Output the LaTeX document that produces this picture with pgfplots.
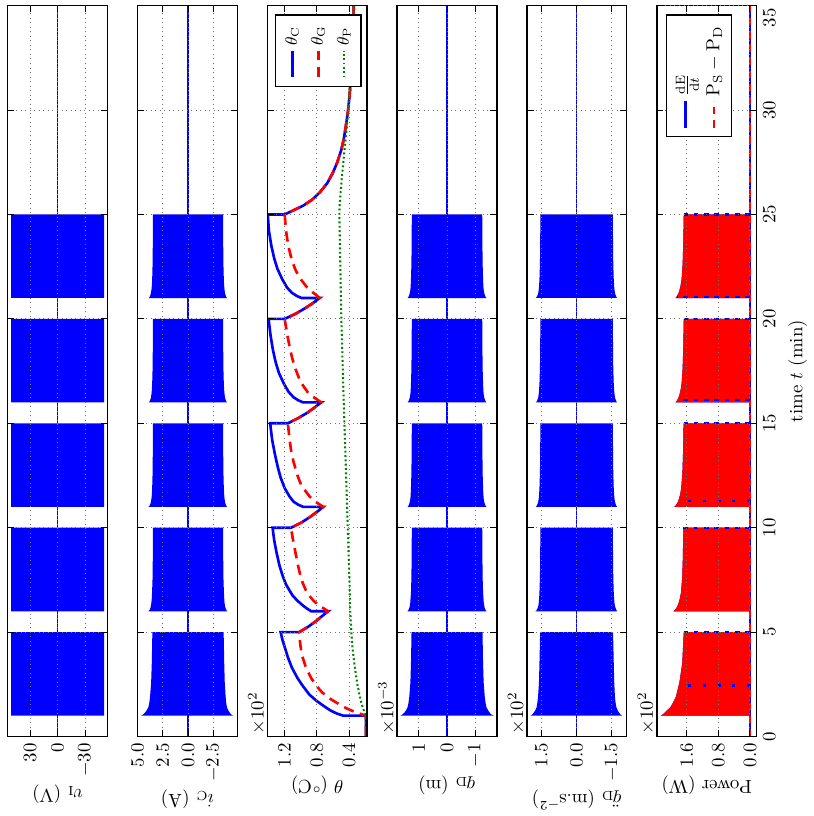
\documentclass[border=0pt]{standalone}
\usepackage{pgfplots}
\pgfplotsset{compat=1.18}
\usepackage{pgfplotstable}
\usetikzlibrary{calc}
\definecolor{mblue}{rgb}{0,0,1}
\definecolor{mred}{rgb}{1,0,0}
\definecolor{mgreen}{rgb}{0,0.5,0}

% envelopes of the fast oscillating signals (upper / lower)
% v: v_I (V), i: i_C (A), q: q_D (x1e-3 m), a: accel (m/s^2), p: power (W)
\pgfplotstableread{
t v vl i il q ql a al p
0 0 0 0 0 0 0 0 0 0
1 0 0 0 0 0 0 0 0 0
1 50.5 -50.5 4.65 -4.48 1.66 -1.66 197 -194 227
1.05 50.5 -50.5 4.45 -4.30 1.59 -1.58 189 -187 222
1.15 50.5 -50.5 4.24 -4.12 1.51 -1.51 182 -180 216
1.25 50.5 -50.5 4.10 -4.00 1.46 -1.46 176 -175 211
1.4 50.5 -50.5 3.93 -3.86 1.40 -1.40 170 -169 202
1.6 50.5 -50.5 3.84 -3.79 1.37 -1.37 167 -166 196
1.9 50.5 -50.5 3.76 -3.73 1.34 -1.34 164 -163 188
2.6 50.5 -50.5 3.65 -3.64 1.30 -1.30 160 -160 179
3.5 50.5 -50.5 3.59 -3.59 1.28 -1.28 158 -158 172
5 50.5 -50.5 3.53 -3.53 1.26 -1.26 155 -155 168
5 0 0 0 0 0 0 0 0 0
6 0 0 0 0 0 0 0 0 0
6 50.5 -50.5 3.92 -3.90 1.41 -1.41 175 -173 194
6.05 50.5 -50.5 3.82 -3.81 1.375 -1.37 170 -169 191
6.15 50.5 -50.5 3.73 -3.72 1.34 -1.34 166 -166 187
6.25 50.5 -50.5 3.68 -3.67 1.325 -1.325 163 -163 184
6.4 50.5 -50.5 3.63 -3.62 1.305 -1.305 161 -161 181
6.6 50.5 -50.5 3.59 -3.59 1.295 -1.295 159.5 -159.5 178
6.9 50.5 -50.5 3.56 -3.56 1.28 -1.28 158 -158 175
7.6 50.5 -50.5 3.51 -3.51 1.265 -1.265 156 -156 172
8.5 50.5 -50.5 3.49 -3.49 1.257 -1.257 155 -155 170.5
10 50.5 -50.5 3.47 -3.47 1.25 -1.25 154 -154 169
10 0 0 0 0 0 0 0 0 0
11 0 0 0 0 0 0 0 0 0
11 50.5 -50.5 3.90 -3.88 1.40 -1.40 174 -172 192
11.05 50.5 -50.5 3.81 -3.80 1.37 -1.37 169.5 -169 189
11.15 50.5 -50.5 3.72 -3.71 1.34 -1.34 165.5 -165.5 185.5
11.25 50.5 -50.5 3.67 -3.66 1.32 -1.32 163 -163 182.5
11.4 50.5 -50.5 3.62 -3.62 1.30 -1.30 161 -161 180
11.6 50.5 -50.5 3.58 -3.58 1.29 -1.29 159.5 -159.5 177
11.9 50.5 -50.5 3.55 -3.55 1.28 -1.28 158 -158 174.5
12.6 50.5 -50.5 3.51 -3.51 1.265 -1.265 156 -156 171.5
13.5 50.5 -50.5 3.49 -3.49 1.257 -1.257 155 -155 170
15 50.5 -50.5 3.47 -3.47 1.25 -1.25 154 -154 168.5
15 0 0 0 0 0 0 0 0 0
16 0 0 0 0 0 0 0 0 0
16 50.5 -50.5 3.88 -3.87 1.40 -1.40 174 -172 189
16.05 50.5 -50.5 3.80 -3.79 1.37 -1.37 169.5 -169 186.5
16.15 50.5 -50.5 3.72 -3.71 1.34 -1.34 165.5 -165.5 183.5
16.25 50.5 -50.5 3.67 -3.66 1.32 -1.32 163 -163 181
16.4 50.5 -50.5 3.62 -3.62 1.30 -1.30 161 -161 178.5
16.6 50.5 -50.5 3.58 -3.58 1.29 -1.29 159.5 -159.5 176
16.9 50.5 -50.5 3.55 -3.55 1.28 -1.28 158 -158 173.5
17.6 50.5 -50.5 3.51 -3.51 1.265 -1.265 156 -156 171
18.5 50.5 -50.5 3.49 -3.49 1.257 -1.257 155 -155 169.5
20 50.5 -50.5 3.47 -3.47 1.25 -1.25 154 -154 168
20 0 0 0 0 0 0 0 0 0
21 0 0 0 0 0 0 0 0 0
21 50.5 -50.5 3.87 -3.86 1.40 -1.40 174 -172 189
21.05 50.5 -50.5 3.80 -3.79 1.37 -1.37 169.5 -169 186.5
21.15 50.5 -50.5 3.72 -3.71 1.34 -1.34 165.5 -165.5 183.5
21.25 50.5 -50.5 3.67 -3.66 1.32 -1.32 163 -163 181
21.4 50.5 -50.5 3.62 -3.62 1.30 -1.30 161 -161 178.5
21.6 50.5 -50.5 3.58 -3.58 1.29 -1.29 159.5 -159.5 176
21.9 50.5 -50.5 3.55 -3.55 1.28 -1.28 158 -158 173.5
22.6 50.5 -50.5 3.51 -3.51 1.265 -1.265 156 -156 171
23.5 50.5 -50.5 3.49 -3.49 1.257 -1.257 155 -155 169.5
25 50.5 -50.5 3.47 -3.47 1.25 -1.25 154 -154 168
25 0 0 0 0 0 0 0 0 0
35 0 0 0 0 0 0 0 0 0
}\sig

% temperatures (deg C)
\pgfplotstableread{
t T
0 19
1 19
1 47
1.1 55
1.25 63
1.4 69
1.7 80
2.0 89
2.4 97
2.8 104
3.3 111
3.8 116
4.3 120
4.6 122.5
5 125
5 102
5.25 91
5.5 82
5.75 74
6 66
6 87
6.15 93
6.3 98
6.5 104
6.75 110
7 114
7.3 118.5
7.7 122.5
8.2 126.5
8.8 130
9.4 133
10 135
10 112
10.25 99
10.5 89
10.75 80
11 72
11 97
11.1 103
11.25 109
11.5 114
11.9 120
12.4 125
12.9 128.5
13.5 132
14.2 135.5
15 138
15 116
15.25 103
15.5 92
15.75 83
16 74.5
16 97
16.1 103
16.25 109
16.5 115
16.9 121
17.4 127
17.9 131
18.5 134.5
19.2 137.5
20 140
20 120
20.25 106
20.5 95
20.75 85
21 76.5
21 99
21.1 105
21.25 111
21.5 117
21.9 123
22.4 129
22.9 133
23.5 136.5
24.2 139.5
25 141
25 120
25.2 109
25.42 97
25.7 86
26.05 76.5
26.5 67
27 60
27.5 54.5
28.1 49.5
28.6 46.5
29.2 44
30 41
30.8 39
32 37
33.5 35
35 34
}\thetaC

\pgfplotstableread{
t T
0 19
1 19
1.1 27
1.2 34
1.35 43
1.54 52
1.8 63
2.1 73
2.4 80
2.8 87
3.3 93.5
3.9 98.5
4.4 100.5
5 102
5.25 91
5.5 82
5.75 74
6 66
6.15 72
6.3 78
6.5 84
6.75 89.5
7 93.5
7.35 97.5
7.8 101
8.3 104
9 107.5
9.5 110
10 112
10.25 99
10.5 89
10.75 80
11 72
11.15 78
11.3 84
11.5 89
11.75 94
12.05 99.5
12.5 104
13.16 109
13.7 112
14.28 114
15 116
15.25 103
15.5 92
15.75 83
16 74.5
16.15 80
16.3 86
16.5 91.5
16.8 97
17.1 101.5
17.6 106.5
18.1 110.5
18.7 114
19.3 117
20 120
20.25 106
20.5 95
20.75 85
21 76.5
21.15 81
21.3 86
21.5 92
21.9 100
22.3 106
22.8 111
23.5 115.5
24.2 118.2
25 120
25.2 109
25.42 97
25.7 86
26.05 76.5
26.5 67
27 60
27.5 54.5
28.1 49.5
28.6 46.5
29.2 44
30 41
30.8 39
32 37
33.5 35
35 34
}\thetaG

\pgfplotstableread{
t T
0 19
1 19
1.3 22
1.6 24.5
2 27
2.5 29.5
3 31.5
3.7 34
4.4 36
5 37
6 38.5
7.6 39.5
10 41.5
13 44
16 46.5
20 49.5
25 52
25.5 51.5
26.5 49.5
27.3 47.5
28.3 45
29.2 42.6
30.5 40
32 37.5
33.5 35.5
35 34
}\thetaP

\pgfplotsset{
  base/.style={
    scale only axis, width=388.5pt, height=53pt,
    xmin=0, xmax=35, xtick={0,5,10,15,20,25,30,35},
    grid=major, major grid style={black!55, dotted, line width=0.5pt},
    tick align=inside, major tick length=3.5pt,
    tick style={black, line width=0.5pt},
    axis line style={black, line width=0.8pt},
    axis on top, clip mode=individual,
    scaled y ticks=false,
    anchor=north west,
    ylabel shift=-2.5pt,
    legend image code/.code={\draw[##1] (0pt,0pt) -- (14pt,0pt);},
  },
}

\begin{document}
\begin{tikzpicture}
\begin{scope}[rotate=90, transform shape]

% ---------------- v_I
\begin{axis}[base, name=vIaxis, at={(0pt,0pt)}, xticklabels={},
  ymin=-54.2, ymax=54.2, ytick={-30,0,30}, yticklabels={$-30$,$0$,$30$},
  ylabel={$v_{\mathrm{I}}$ (V)}]
\addplot[draw=none, fill=mblue] table[x=t,y=v]{\sig} \closedcycle;
\addplot[draw=none, fill=mblue] table[x=t,y=vl]{\sig} \closedcycle;
\addplot[mblue, line width=0.9pt] coordinates {(0,0) (35,0)};
\end{axis}

% ---------------- i_C
\begin{axis}[base, at={(0pt,-69pt)}, xticklabels={},
  ymin=-4.88, ymax=5.0, ytick={-2.5,0,2.5,5}, yticklabels={$-2.5$,$0.0$,$2.5$,$5.0$},
  ylabel={$i_{\mathrm{C}}$ (A)}]
\addplot[draw=none, fill=mblue] table[x=t,y=i]{\sig} \closedcycle;
\addplot[draw=none, fill=mblue] table[x=t,y=il]{\sig} \closedcycle;
\addplot[mblue, line width=0.9pt] coordinates {(0,0) (35,0)};
\end{axis}

% ---------------- theta
\begin{axis}[base, at={(0pt,-138pt)}, xticklabels={},
  ymin=17.5, ymax=141.5, ytick={40,80,120}, yticklabels={$0.4$,$0.8$,$1.2$},
  ylabel={$\theta$ ($^{\circ}$C)},
  legend style={at={(rel axis cs:0.988,0.92)}, anchor=north east, draw=black,
    line width=0.6pt, font=\small, inner xsep=4pt, inner ysep=3pt, row sep=2pt,
    cells={anchor=west}}]
\addplot[mblue, line width=1.4pt] table[x=t,y=T]{\thetaC};
\addlegendentry{$\theta_{\mathrm{C}}$}
\addplot[mred, line width=1.4pt, dash pattern=on 5.5pt off 3.5pt] table[x=t,y=T]{\thetaG};
\addlegendentry{$\theta_{\mathrm{G}}$}
\addplot[mgreen, line width=1.1pt, dash pattern=on 1pt off 1.3pt] table[x=t,y=T]{\thetaP};
\addlegendentry{$\theta_{\mathrm{P}}$}
\node[anchor=south west, inner sep=1pt] at (rel axis cs:0,1) {$\times10^{2}$};
\end{axis}

% ---------------- q_D
\begin{axis}[base, at={(0pt,-207pt)}, xticklabels={},
  ymin=-1.77, ymax=1.77, ytick={-1,0,1}, yticklabels={$-1$,$0$,$1$},
  ylabel={$q_{\mathrm{D}}$ (m)}]
\addplot[draw=none, fill=mblue] table[x=t,y=q]{\sig} \closedcycle;
\addplot[draw=none, fill=mblue] table[x=t,y=ql]{\sig} \closedcycle;
\addplot[mblue, line width=0.9pt] coordinates {(0,0) (35,0)};
\node[anchor=south west, inner sep=1pt] at (rel axis cs:0,1) {$\times10^{-3}$};
\end{axis}

% ---------------- q_D ddot
\begin{axis}[base, at={(0pt,-276pt)}, xticklabels={},
  ymin=-213, ymax=211, ytick={-150,0,150}, yticklabels={$-1.5$,$0.0$,$1.5$},
  ylabel={$\ddot{q}_{\mathrm{D}}$ (m.s$^{-2}$)}]
\addplot[draw=none, fill=mblue] table[x=t,y=a]{\sig} \closedcycle;
\addplot[draw=none, fill=mblue] table[x=t,y=al]{\sig} \closedcycle;
\addplot[mblue, line width=0.9pt] coordinates {(0,0) (35,0)};
\node[anchor=south west, inner sep=1pt] at (rel axis cs:0,1) {$\times10^{2}$};
\end{axis}

% ---------------- Power
\begin{axis}[base, at={(0pt,-345pt)},
  xtick={0,5,10,15,20,25,30}, extra x ticks={35},
  extra x tick style={xticklabel style={anchor=north east, xshift=2pt}},
  ymin=-16.7, ymax=236.5, ytick={0,80,160}, yticklabels={$0.0$,$0.8$,$1.6$},
  ylabel={Power (W)}, xlabel={time $t$ (min)},
  legend style={at={(rel axis cs:0.988,0.91)}, anchor=north east, draw=black,
    line width=0.6pt, font=\normalsize, inner xsep=4pt, inner ysep=3pt, row sep=2pt,
    cells={anchor=west}}]
\addplot[draw=none, fill=mblue, forget plot] table[x=t,y=p]{\sig} \closedcycle;
\addplot[mblue, line width=1pt, forget plot] coordinates {(0,0) (35,0)};
\addplot[draw=none, fill=mred, forget plot] table[x=t,y=p]{\sig} \closedcycle;
\addplot[mred, line width=1pt, dash pattern=on 4pt off 3pt, forget plot] coordinates {(0,0) (35,0)};
\addplot[mblue, line width=1.2pt, dash pattern=on 2.5pt off 3pt, forget plot] coordinates {(5,0) (5,168)};
\addplot[mblue, line width=1.2pt, dash pattern=on 2.5pt off 3pt, forget plot] coordinates {(10,0) (10,169)};
\addplot[mblue, line width=1.2pt, dash pattern=on 2.5pt off 3pt, forget plot] coordinates {(15,0) (15,168.5)};
\addplot[mblue, line width=1.2pt, dash pattern=on 2.5pt off 3pt, forget plot] coordinates {(20,0) (20,168)};
\addplot[mblue, line width=1.2pt, dash pattern=on 2.5pt off 3pt, forget plot] coordinates {(25,0) (25,168)};
\addplot[mblue, line width=1.2pt, dash pattern=on 2.5pt off 3pt, forget plot] coordinates {(16.1,0) (16.1,183)};
\addplot[mblue, line width=1.2pt, dash pattern=on 2.5pt off 3pt, forget plot] coordinates {(21.05,0) (21.05,186)};
\addplot[mblue, line width=1.5pt, dash pattern=on 1.5pt off 6.3pt, forget plot] coordinates {(2.45,0) (2.45,180)};
\addplot[mblue, line width=1.5pt, dash pattern=on 1.5pt off 6.3pt, forget plot] coordinates {(11.28,0) (11.28,185)};
\addlegendimage{mblue, line width=1.2pt}
\addlegendentry{$\frac{\mathrm{dE}}{\mathrm{d}t}$}
\addlegendimage{mred, line width=1.2pt, dash pattern=on 4pt off 3pt}
\addlegendentry{$\mathrm{P_S}-\mathrm{P_D}$}
\node[anchor=south west, inner sep=1pt] at (rel axis cs:0,1) {$\times10^{2}$};
\end{axis}

\end{scope}
% tighten the page: small margin past the end of the time axis, as in the reference
\coordinate (bbSW) at (current bounding box.south west);
\coordinate (bbNE) at (current bounding box.north east);
\coordinate (axEnd) at (vIaxis.north east);
\pgfresetboundingbox
\path let \p1=(bbSW), \p2=(bbNE), \p3=(axEnd) in
  (\x1-3.7pt,\y1+0.2pt) rectangle (\x2,\y3+3pt);
\end{tikzpicture}
\end{document}
